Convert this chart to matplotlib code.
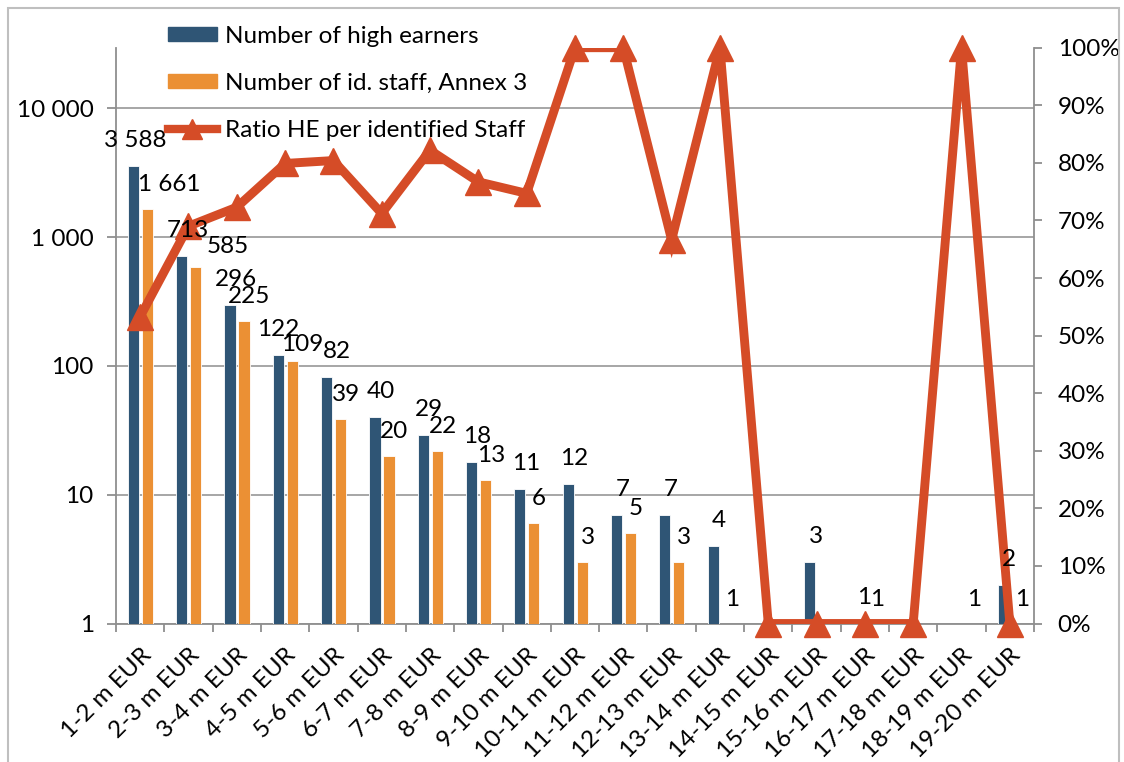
import numpy as np
import matplotlib
matplotlib.use("Agg")
import matplotlib.pyplot as plt
from matplotlib.lines import Line2D
from matplotlib.patches import Rectangle
from matplotlib.ticker import FixedLocator, FuncFormatter, NullLocator, PercentFormatter

plt.rcParams['font.family'] = ['Lato', 'DejaVu Sans']

# ---------------- data ----------------
categories = ["1-2 m EUR", "2-3 m EUR", "3-4 m EUR", "4-5 m EUR", "5-6 m EUR",
              "6-7 m EUR", "7-8 m EUR", "8-9 m EUR", "9-10 m EUR", "10-11 m EUR",
              "11-12 m EUR", "12-13 m EUR", "13-14 m EUR", "14-15 m EUR",
              "15-16 m EUR", "16-17 m EUR", "17-18 m EUR", "18-19 m EUR",
              "19-20 m EUR"]
high_earners = [3588, 713, 296, 122, 82, 40, 29, 18, 11, 12, 7, 7, 4,
                np.nan, 3, 1, np.nan, np.nan, 2]
id_staff = [1661, 585, 225, 109, 39, 20, 22, 13, 6, 3, 5, 3, 1,
            np.nan, np.nan, 1, np.nan, 1, 1]
ratio = [0.533, 0.69, 0.723, 0.799, 0.804, 0.712, 0.822, 0.767, 0.747,
         1.0, 1.0, 0.666, 1.0, 0.0, 0.0, 0.0, 0.0, 1.0, 0.0]
left_ticks = [1, 10, 100, 1000, 10000]

series_names = ["Number of high earners", "Number of id. staff, Annex 3",
                "Ratio HE per identified Staff"]

# ---------------- style ----------------
BLUE = "#2F5575"
ORANGE = "#EB9034"
RED = "#D54C27"
GRID = "#A6A6A6"
AXC = "#8F8F8F"
FS = 17.5

W, H = 1124, 762
fig = plt.figure(figsize=(W / 100, H / 100), dpi=100)
ax1 = fig.add_axes([116 / W, 1 - 623.5 / H, (1034 - 116) / W, (623.5 - 47.7) / H])
ax2 = ax1.twinx()

x = np.arange(len(categories))
bw = 0.23
b1 = ax1.bar(x - 0.14, high_earners, width=bw, color=BLUE, edgecolor="white",
             linewidth=0.6, zorder=3)
b2 = ax1.bar(x + 0.15, id_staff, width=bw, color=ORANGE, edgecolor="white",
             linewidth=0.6, zorder=3)

ax1.set_yscale("log")
ax1.set_ylim(1, 10 ** 4.47)
ax1.set_xlim(-0.5, len(categories) - 0.5)
ax1.yaxis.set_major_locator(FixedLocator(left_ticks))
ax1.yaxis.set_minor_locator(NullLocator())
ax1.yaxis.set_major_formatter(FuncFormatter(lambda v, p: f"{int(round(v)):,}".replace(",", " ")))
ax1.grid(axis="y", which="major", color=GRID, linewidth=1.4, zorder=0)
ax1.set_axisbelow(True)

# x ticks: marks at boundaries, labels at centres
ax1.set_xticks(np.arange(-0.5, len(categories), 1.0))
ax1.set_xticklabels([])
ax1.set_xticks(x, minor=True)
ax1.set_xticklabels(categories, minor=True, rotation=45, ha="right", va="top",
                    rotation_mode="anchor", fontsize=FS)
ax1.tick_params(axis="x", which="major", length=6, width=1.3, color=AXC)
ax1.tick_params(axis="x", which="minor", length=0, pad=15)
ax1.tick_params(axis="y", which="major", length=6.5, width=1.3, color=AXC,
                labelsize=FS, pad=9.5)

for s in ["top", "right"]:
    ax1.spines[s].set_visible(False)
for s in ["left", "bottom"]:
    ax1.spines[s].set_color(AXC)
    ax1.spines[s].set_linewidth(1.3)

# ratio line
ax2.plot(x, ratio, color=RED, linewidth=6.4, solid_joinstyle="miter",
         clip_on=True, zorder=4)
ax2.plot(x, ratio, linestyle="none", marker="^", markersize=19, color=RED,
         clip_on=False, zorder=5)
ax2.set_ylim(0, 1)
ax2.yaxis.set_major_locator(FixedLocator(np.arange(0, 1.01, 0.1)))
ax2.yaxis.set_major_formatter(PercentFormatter(1.0, decimals=0))
ax2.tick_params(axis="y", length=6, width=1.3, color=AXC, labelsize=FS, pad=11)
for s in ["top", "left", "bottom"]:
    ax2.spines[s].set_visible(False)
ax2.spines["right"].set_color(AXC)
ax2.spines["right"].set_linewidth(1.3)

# data labels
def fmt(v):
    return f"{int(v):,}".replace(",", " ")

blue_dx = {0: -5, 3: -7, 4: 4}
orange_dx = {0: 29, 1: 39, 3: 17.5}
orange_dy = {1: 23, 3: 19}
for i, v in enumerate(high_earners):
    if np.isnan(v):
        continue
    ax2.annotate(fmt(v), xy=(i, v), xycoords=ax1.transData,
                 xytext=(blue_dx.get(i, -1), 28 - 9), textcoords="offset pixels",
                 ha="center", va="baseline", fontsize=FS, zorder=6,
                 annotation_clip=False)
for i, v in enumerate(id_staff):
    if np.isnan(v):
        continue
    ax2.annotate(fmt(v), xy=(i, v), xycoords=ax1.transData,
                 xytext=(orange_dx.get(i, 12.5), orange_dy.get(i, 27) - 9),
                 textcoords="offset pixels",
                 ha="center", va="baseline", fontsize=FS, zorder=6,
                 annotation_clip=False)

# legend
h1 = Rectangle((0, 0), 1, 1, color=BLUE)
h2 = Rectangle((0, 0), 1, 1, color=ORANGE)
h3 = Line2D([0], [0], color=RED, linewidth=6, marker="^", markersize=15)
leg = fig.legend([h1, h2, h3], series_names, loc="upper left",
                 bbox_to_anchor=(168 / W, 1 - 26 / H), frameon=False,
                 fontsize=FS, handlelength=2.0, handleheight=0.5,
                 handletextpad=0.33, labelspacing=1.07, borderaxespad=0,
                 borderpad=0)
leg.set_zorder(10)

# chart border
fig.patches.append(Rectangle((8 / W, -0.05), (1119 - 8) / W, 1 - 8 / H + 0.05,
                             transform=fig.transFigure, fill=False,
                             edgecolor="#BFBFBF", linewidth=1.5))

fig.savefig("out.png", dpi=100)
